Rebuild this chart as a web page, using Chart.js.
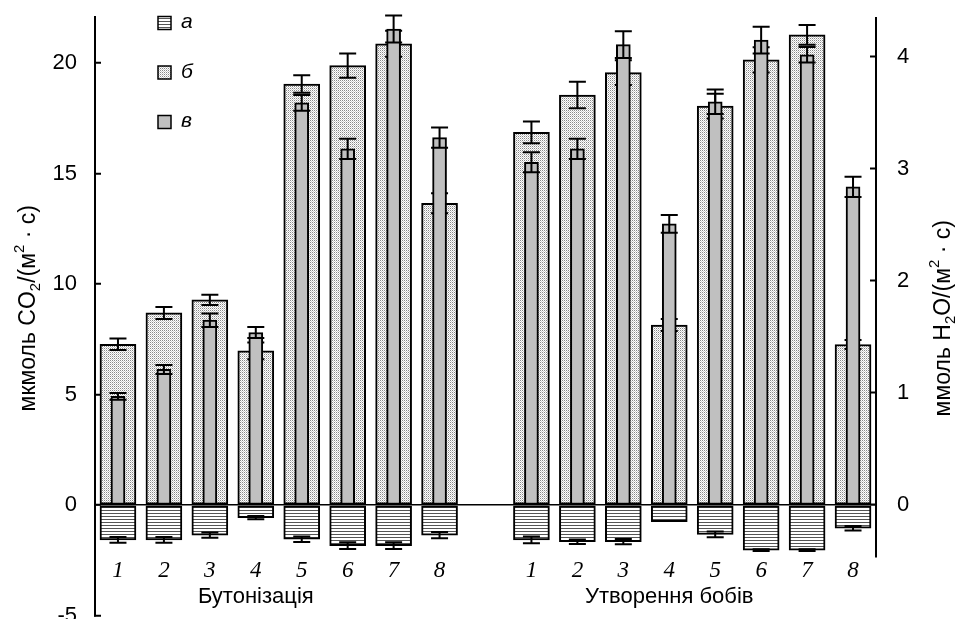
<!DOCTYPE html>
<html>
<head>
<meta charset="utf-8">
<script src="https://cdn.jsdelivr.net/npm/chart.js@4.4.1/dist/chart.umd.min.js"></script>
<style>
  html, body { margin: 0; padding: 0; background: #fff; }
</style>
</head>
<body>
<canvas id="chart" width="956" height="619"></canvas>
<script>
// categories: two phases of 8 variants, one empty slot between them
const categories = ['1', '2', '3', '4', '5', '6', '7', '8', '', '1', '2', '3', '4', '5', '6', '7', '8'];
const groupLabels = ['', '', '', 'Бутонізація', '', '', '', '', '', '', '', '', 'Утворення бобів', '', '', '', ''];

// а - dark respiration, CO2 (left axis)
const respiration = [-1.58, -1.58, -1.36, -0.57, -1.55, -1.84, -1.84, -1.36, null, -1.58, -1.66, -1.66, -0.75, -1.33, -2.04, -2.04, -1.05];
const respErr = [0.13, 0.13, 0.12, 0.07, 0.13, 0.15, 0.15, 0.14, null, 0.15, 0.10, 0.12, 0, 0.13, 0.04, 0.04, 0.10];

// б - photosynthesis, CO2 (left axis)
const photosynthesis = [7.27, 8.69, 9.28, 6.97, 19.05, 19.88, 20.87, 13.65, null, 16.86, 18.55, 19.56, 8.14, 18.05, 20.14, 21.27, 7.26];
const photoErr = [0.26, 0.27, 0.23, 0.38, 0.40, 0.55, 0.59, 0.45, null, 0.49, 0.60, 0.56, 0.27, 0.56, 0.57, 0.45, 0.20];

// в - transpiration, H2O (right axis)
const transpiration = [0.97, 1.21, 1.65, 1.54, 3.59, 3.18, 4.25, 3.28, null, 3.06, 3.18, 4.11, 2.51, 3.60, 4.15, 4.02, 2.84];
const transErr = [0.03, 0.04, 0.06, 0.05, 0.07, 0.09, 0.12, 0.09, null, 0.09, 0.09, 0.12, 0.08, 0.11, 0.12, 0.07, 0.09];

const leftTicks = [-5, 0, 5, 10, 15, 20];
const rightTicks = [0, 1, 2, 3, 4];
const rightAxisBottom = -0.47;

const sans = "'Liberation Sans', Arial, 'DejaVu Sans', sans-serif";
const serif = "'Liberation Serif', 'Times New Roman', serif";

const canvas = document.getElementById('chart');
const ctx = canvas.getContext('2d');

function makePattern(w, h, paint) {
  const c = document.createElement('canvas');
  c.width = w;
  c.height = h;
  const g = c.getContext('2d');
  g.fillStyle = '#fff';
  g.fillRect(0, 0, w, h);
  paint(g);
  return ctx.createPattern(c, 'repeat');
}

const hatch = makePattern(4, 3, g => {
  g.fillStyle = '#555';
  g.fillRect(0, 0, 4, 1);
});
const dots = makePattern(2, 2, g => {
  g.fillStyle = '#888';
  g.fillRect(0, 0, 1, 1);
  g.fillStyle = '#ccc';
  g.fillRect(1, 1, 1, 1);
});

const errorsByDataset = [respErr, photoErr, transErr];

// error bars, drawn right after each dataset so later bars cover them
const errorBars = {
  id: 'errorBars',
  afterDatasetDraw(chart, args) {
    const errs = errorsByDataset[args.index];
    const ds = chart.data.datasets[args.index];
    const yScale = chart.scales[args.meta.yAxisID];
    const c = chart.ctx;
    c.save();
    c.strokeStyle = '#000';
    c.lineWidth = 2;
    args.meta.data.forEach((bar, i) => {
      const v = ds.data[i];
      const e = errs[i];
      if (v == null || !e) return;
      const yTop = yScale.getPixelForValue(v + e);
      const yBot = yScale.getPixelForValue(v - e);
      c.beginPath();
      c.moveTo(bar.x, yTop);
      c.lineTo(bar.x, yBot);
      c.moveTo(bar.x - 8.5, yTop);
      c.lineTo(bar.x + 8.5, yTop);
      c.moveTo(bar.x - 8.5, yBot);
      c.lineTo(bar.x + 8.5, yBot);
      c.stroke();
    });
    c.restore();
  }
};

function drawRich(c, parts, size) {
  let total = 0;
  parts.forEach(p => {
    c.font = (p.sub || p.sup ? size * 0.65 : size) + 'px ' + sans;
    p.w = c.measureText(p.t).width;
    total += p.w;
  });
  let x = -total / 2;
  parts.forEach(p => {
    c.font = (p.sub || p.sup ? size * 0.65 : size) + 'px ' + sans;
    const dy = p.sub ? size * 0.28 : (p.sup ? -size * 0.38 : 0);
    c.fillText(p.t, x, dy);
    x += p.w;
  });
}

const decorations = {
  id: 'decorations',
  afterDraw(chart) {
    const c = chart.ctx;
    const y2 = chart.scales.y2;
    const area = chart.chartArea;
    c.save();
    // right axis line (shorter than the left one)
    c.strokeStyle = '#000';
    c.lineWidth = 2;
    c.beginPath();
    c.moveTo(y2.left, y2.getPixelForValue(y2.max));
    c.lineTo(y2.left, y2.getPixelForValue(rightAxisBottom));
    c.stroke();

    // legend
    chart.data.datasets.forEach((ds, i) => {
      const top = 16.5 + i * 49.5;
      c.fillStyle = ds.backgroundColor;
      c.fillRect(158, top, 13, 13);
      c.lineWidth = 1.5;
      c.strokeRect(158, top, 13, 13);
      c.fillStyle = '#000';
      c.font = 'italic 21px ' + sans;
      c.textBaseline = 'middle';
      c.textAlign = 'left';
      c.fillText(ds.label, 181, top + 6);
    });

    // axis titles
    c.fillStyle = '#000';
    c.textBaseline = 'middle';
    c.textAlign = 'left';
    const midY = (area.top + area.bottom) / 2;
    c.save();
    c.translate(29, midY - 8);
    c.rotate(-Math.PI / 2);
    drawRich(c, [{t: 'мкмоль CO'}, {t: '2', sub: true}, {t: '/(м'}, {t: '2', sup: true}, {t: ' · с)'}], 23);
    c.restore();
    c.save();
    c.translate(944, midY + 2);
    c.rotate(-Math.PI / 2);
    drawRich(c, [{t: 'ммоль H'}, {t: '2', sub: true}, {t: 'O/(м'}, {t: '2', sup: true}, {t: ' · с)'}], 23);
    c.restore();
    c.restore();
  }
};

function noPad(s) {
  s.paddingTop = 0;
  s.paddingBottom = 0;
  s.paddingLeft = 0;
  s.paddingRight = 0;
}

new Chart(ctx, {
  type: 'bar',
  data: {
    labels: categories,
    datasets: [
      {
        label: 'а',
        data: respiration,
        yAxisID: 'y',
        backgroundColor: hatch,
        borderColor: '#000',
        borderWidth: 2,
        borderSkipped: false,
        barThickness: 36,
        grouped: false,
        order: 2,
      },
      {
        label: 'б',
        data: photosynthesis,
        yAxisID: 'y',
        backgroundColor: dots,
        borderColor: '#000',
        borderWidth: 2,
        borderSkipped: false,
        barThickness: 36,
        grouped: false,
        order: 1,
      },
      {
        label: 'в',
        data: transpiration,
        yAxisID: 'y2',
        backgroundColor: '#c0c0c0',
        borderColor: '#000',
        borderWidth: 2,
        borderSkipped: false,
        barThickness: 14,
        grouped: false,
        order: 0,
      },
    ],
  },
  options: {
    responsive: false,
    animation: false,
    layout: {
      padding: {left: 0, right: 0, top: 17, bottom: 3.5},
    },
    plugins: {
      legend: {display: false},
      tooltip: {enabled: false},
    },
    scales: {
      x: {
        type: 'category',
        axis: 'x',
        position: {y: 0},
        offset: true,
        grid: {display: false, drawTicks: false},
        border: {display: false},
        ticks: {
          autoSkip: false,
          maxRotation: 0,
          padding: 52,
          color: '#000',
          font: {family: serif, size: 23, style: 'italic'},
        },
      },
      x2: {
        type: 'category',
        axis: 'x',
        position: {y: 0},
        labels: groupLabels,
        offset: true,
        grid: {display: false, drawTicks: false},
        border: {display: false},
        ticks: {
          autoSkip: false,
          maxRotation: 0,
          padding: 79,
          color: '#000',
          font: {family: sans, size: 22},
        },
      },
      y: {
        type: 'linear',
        position: 'left',
        min: -5,
        max: 22.08,
        afterBuildTicks: s => { s.ticks = leftTicks.map(v => ({value: v})); },
        afterFit: s => { s.width = 95; noPad(s); },
        border: {display: true, color: '#000', width: 2},
        grid: {
          drawOnChartArea: true,
          color: c => (c.tick && c.tick.value === 0 ? '#000' : 'rgba(0,0,0,0)'),
          lineWidth: 1.5,
          tickLength: -6,
          tickColor: '#000',
          tickWidth: 2,
        },
        ticks: {
          padding: 24,
          color: '#000',
          font: {family: sans, size: 22},
        },
      },
      y2: {
        type: 'linear',
        position: 'right',
        min: -0.987,
        max: 4.357,
        afterBuildTicks: s => { s.ticks = rightTicks.map(v => ({value: v})); },
        afterFit: s => { s.width = 80; noPad(s); },
        border: {display: false},
        grid: {
          drawOnChartArea: false,
          tickLength: -6,
          tickColor: '#000',
          tickWidth: 2,
        },
        ticks: {
          padding: 27,
          color: '#000',
          font: {family: sans, size: 22},
        },
      },
    },
  },
  plugins: [errorBars, decorations],
});
</script>
</body>
</html>
